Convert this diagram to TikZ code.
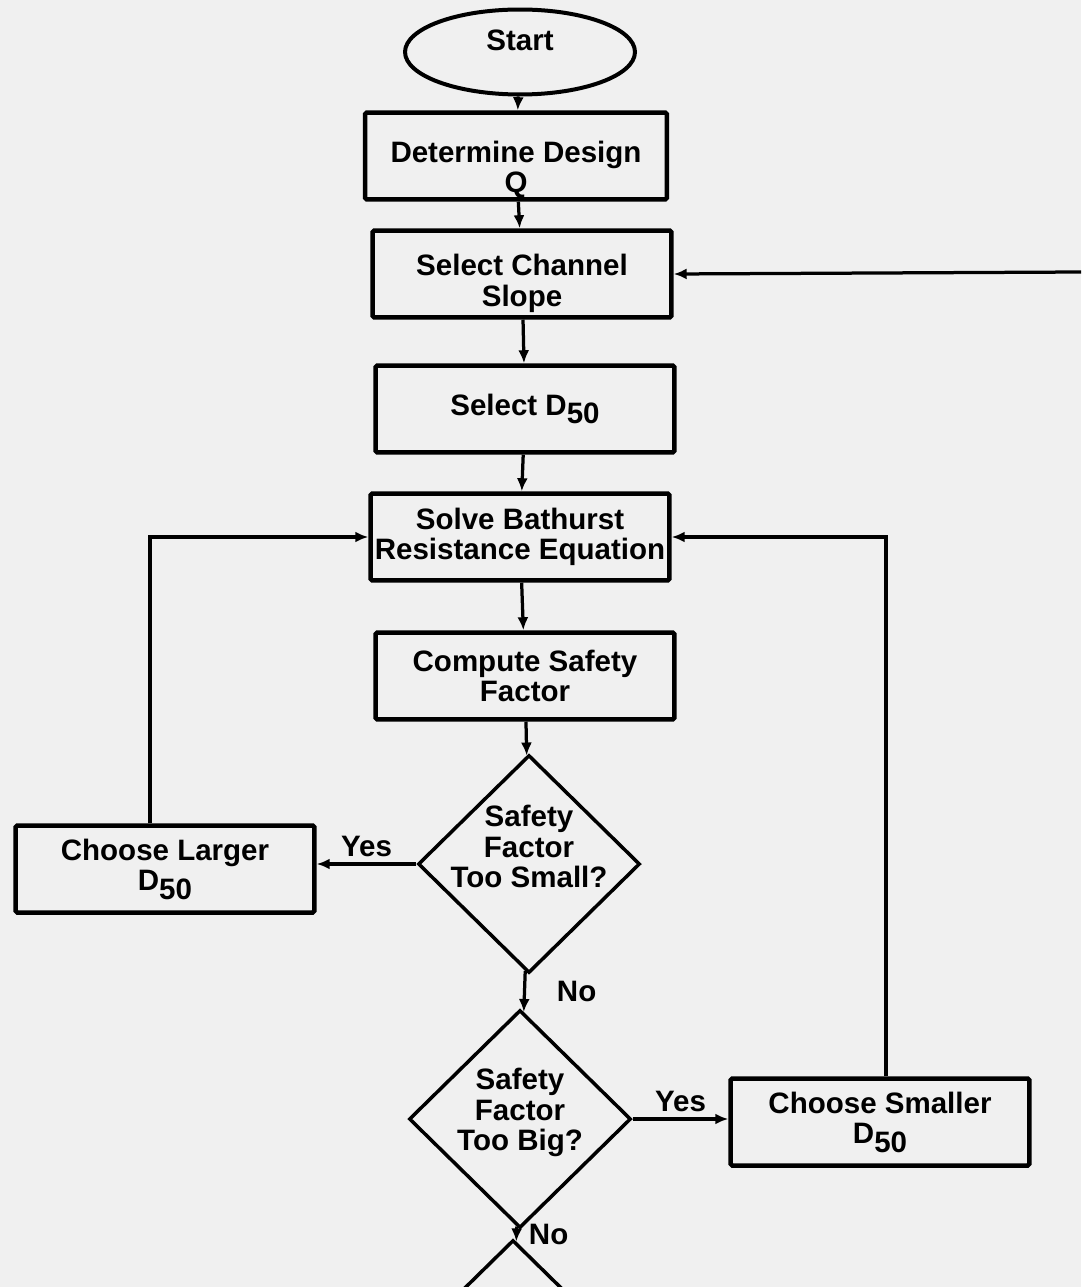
\documentclass[tikz,border=0pt]{standalone}
\usepackage{fontspec}
\setmainfont{Liberation Sans}
\usetikzlibrary{shapes.geometric,arrows.meta}
\newcommand{\dsub}{D\raisebox{-0.3em}{50}}
% move a block of lines down (or up) without changing the node size
\newcommand{\nudge}[2]{\raisebox{-#1}[\height][\depth]{\begin{tabular}{@{}c@{}}#2\end{tabular}}}
\begin{document}
\begin{tikzpicture}[x=0.02cm, y=-0.02cm, >={Latex[length=0.26cm,width=0.22cm]},
  font=\fontsize{16.8}{17.2}\selectfont\bfseries,
  terminal/.style={draw, ellipse, line width=0.08cm, minimum width=4.6cm, minimum height=1.7cm, inner sep=0pt},
  box/.style={draw, line width=0.09cm, rounded corners=1pt, minimum width=5.98cm, minimum height=1.74cm, align=center, inner sep=0pt},
  decision/.style={draw, diamond, line width=0.07cm, minimum width=4.44cm, minimum height=4.36cm, inner sep=-0.25cm, align=center},
  link/.style={->, line width=0.065cm}]
\fill[black!6] (0,0) rectangle (1081,1287);
\clip (0,0) rectangle (1081,1287);
% main column
\node[terminal] (start) at (520,52) {\nudge{-0.15cm}{Start}};
\node[box, minimum width=6.04cm] (design) at (516,156) {\nudge{0.3cm}{Determine Design\\Q}};
\node[box] (slope) at (522,274) {\nudge{0.22cm}{Select Channel\\Slope}};
\node[box] (dfifty) at (525,409) {Select \dsub};
\node[box] (solve) at (520,537) {Solve Bathurst\\Resistance Equation};
\node[box] (factor) at (525,676) {Compute Safety\\Factor};
\node[decision] (small) at (529,864) {\nudge{-0.26cm}{Safety\\Factor\\Too Small?}};
\node[decision] (big) at (520,1119) {\nudge{-0.1cm}{Safety\\Factor\\Too Big?}};
\node[decision] (next) at (513,1349) {};
% side boxes
\node[box] (larger) at (165,869) {Choose Larger\\\dsub};
\node[box] (smaller) at (880,1122) {Choose Smaller\\\dsub};
\coordinate (feed) at (1081,272);
% connectors
\draw[link] (start) -- (design);
\draw[link] (design) -- (slope);
\draw[link] (slope) -- (dfifty);
\draw[link] (dfifty) -- (solve);
\draw[link] (solve) -- (factor);
\draw[link] (factor) -- (small);
\draw[link] (small.west) -- node[above]{Yes} (small.west -| larger.east);
\draw[link] (small) -- node[right=0.5cm]{No} (big);
\draw[link] (big.east) -- node[above]{Yes} (big.east -| smaller.west);
\draw[link] (big) -- node[right=0.1cm]{No} (next);
\draw[link] ([xshift=-0.3cm]larger.north) |- (solve.west);
\draw[link] ([xshift=0.12cm]smaller.north) |- (solve.east);
\draw[link] (feed) -- (slope.east);
\end{tikzpicture}
\end{document}
